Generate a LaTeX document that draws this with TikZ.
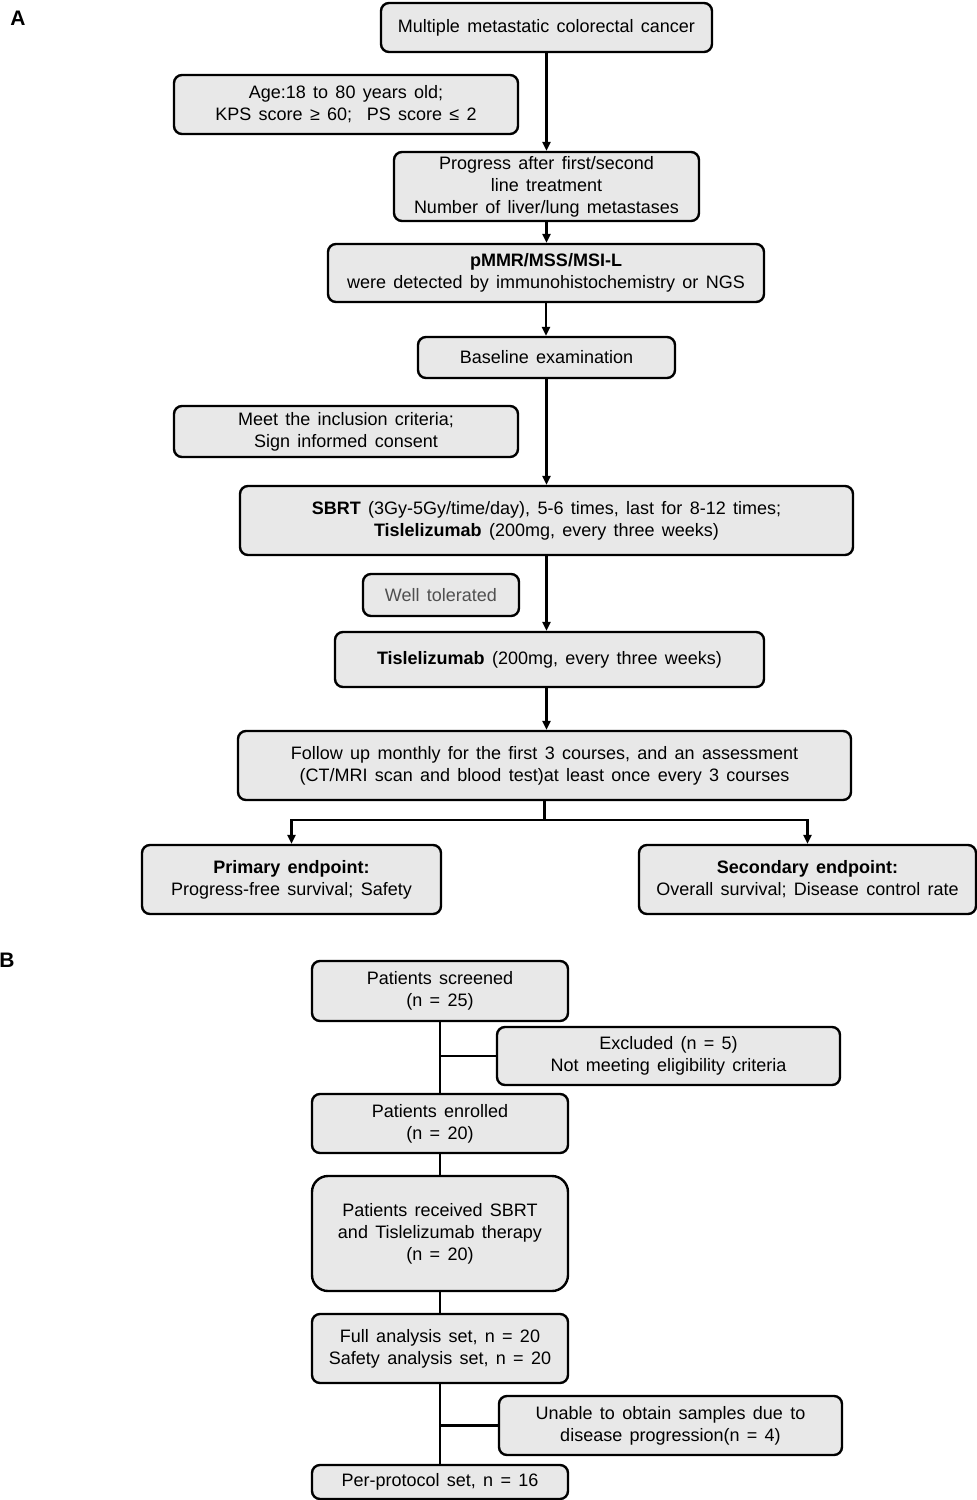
\documentclass[tikz,border=0pt]{standalone}
\usepackage{fontspec}
\setmainfont{Liberation Sans}
\usetikzlibrary{arrows.meta}
\definecolor{boxgray}{HTML}{E8E8E8}
\definecolor{softtext}{HTML}{505050}
\newcommand\fsz{\fontsize{18}{22}\selectfont\spaceskip=7.3pt plus 2pt minus 1pt\relax}
\begin{document}
\begin{tikzpicture}[x=1pt,y=-1pt,
  box/.style={draw=black, line width=2.4pt, fill=boxgray, rounded corners=8pt, align=center, inner sep=0pt, font=\fsz},
  conn/.style={line width=2.4pt},
  arr/.style={conn,-{Triangle[length=9pt,width=8pt]}},
  panel/.style={font=\fontsize{21}{24}\selectfont\bfseries, inner sep=0pt}]
\useasboundingbox (0,0) rectangle (977,1500);
% Panel A
\node[panel] (lA) at (18,18) {A};
\node[box, minimum width=331, minimum height=49] (b1) at (546.5,27.5) {Multiple metastatic colorectal cancer};
\node[box, minimum width=344, minimum height=59] (age) at (346,104.5) {Age:18 to 80 years old;\\KPS score ≥ 60;\ \ PS score ≤ 2};
\node[box, minimum width=305, minimum height=69] (prog) at (546.5,186.5) {Progress after first/second\\line treatment\\Number of liver/lung metastases};
\node[box, minimum width=436, minimum height=58] (pmmr) at (546,273) {\textbf{pMMR/MSS/MSI-L}\\were detected by immunohistochemistry or NGS};
\node[box, minimum width=257, minimum height=41] (base) at (546.5,357.5) {Baseline examination};
\node[box, minimum width=344, minimum height=51] (meet) at (346,431.5) {Meet the inclusion criteria;\\Sign informed consent};
\node[box, minimum width=613, minimum height=69] (sbrt) at (546.5,520.5) {\textbf{SBRT} (3Gy-5Gy/time/day), 5-6 times, last for 8-12 times;\\\textbf{Tislelizumab} (200mg, every three weeks)};
\node[box, minimum width=156, minimum height=42, text=softtext] (well) at (441,595) {Well tolerated};
\node[box, minimum width=429, minimum height=55] (tisl) at (549.5,659.5) {\textbf{Tislelizumab} (200mg, every three weeks)};
\node[box, minimum width=613, minimum height=69] (fu) at (544.5,765.5) {Follow up monthly for the first 3 courses, and an assessment\\(CT/MRI scan and blood test)at least once every 3 courses};
\node[box, minimum width=299, minimum height=69] (pe) at (291.5,879.5) {\textbf{Primary endpoint:}\\Progress-free survival; Safety};
\node[box, minimum width=337, minimum height=69] (se) at (807.5,879.5) {\textbf{Secondary endpoint:}\\Overall survival; Disease control rate};
\draw[arr] (b1.south) -- (b1.south |- prog.north);
\draw[arr] (prog.south) -- (prog.south |- pmmr.north);
\draw[arr] (pmmr.south) -- (pmmr.south |- base.north);
\draw[arr] (base.south) -- (base.south |- sbrt.north);
\draw[arr] (sbrt.south) -- (sbrt.south |- tisl.north);
\draw[arr] (tisl.south -| sbrt.south) -- (sbrt.south |- fu.north);
\coordinate (br) at (544.5,820);
\draw[conn] (fu.south) -- (br);
\draw[arr] (br) -| (pe.north);
\draw[arr] (br) -| (se.north);
% Panel B
\node[panel] (lB) at (7,960) {B};
\node[box, minimum width=256, minimum height=60] (scr) at (440,991) {Patients screened\\(n = 25)};
\node[box, minimum width=343, minimum height=58] (exc) at (668.5,1056) {Excluded (n = 5)\\Not meeting eligibility criteria};
\node[box, minimum width=256, minimum height=59] (enr) at (440,1123.5) {Patients enrolled\\(n = 20)};
\node[box, minimum width=256, minimum height=115, rounded corners=16pt] (rec) at (440,1233.5) {Patients received SBRT\\and Tislelizumab therapy\\(n = 20)};
\node[box, minimum width=256, minimum height=69] (full) at (440,1348.5) {Full analysis set, n = 20\\Safety analysis set, n = 20};
\node[box, minimum width=343, minimum height=59] (una) at (670.5,1425.5) {Unable to obtain samples due to\\disease progression(n = 4)};
\node[box, minimum width=256, minimum height=34] (pp) at (440,1482) {Per-protocol set, n = 16};
\draw[conn] (scr.south) -- (enr.north);
\draw[conn] (exc.west) -- (exc.west -| scr.south);
\draw[conn] (enr.south) -- (rec.north);
\draw[conn] (rec.south) -- (full.north);
\draw[conn] (full.south) -- (pp.north);
\draw[conn] (una.west) -- (una.west -| full.south);
\end{tikzpicture}
\end{document}
